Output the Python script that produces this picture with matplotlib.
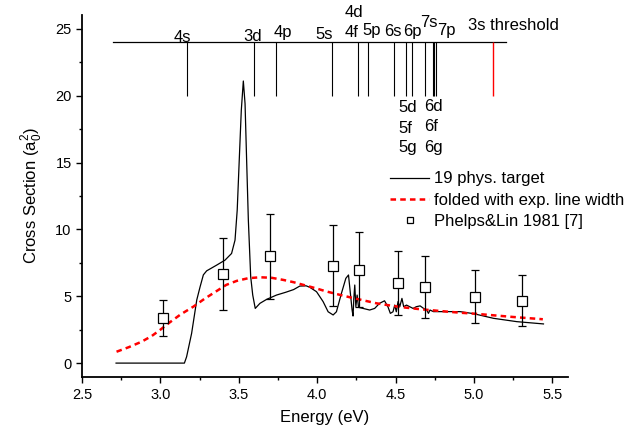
import matplotlib
matplotlib.use("Agg")
import matplotlib.pyplot as plt
from matplotlib.ticker import MultipleLocator
from matplotlib.lines import Line2D

plt.rcParams['font.family'] = ['Liberation Sans', 'DejaVu Sans']
plt.rcParams['mathtext.fontset'] = 'custom'
plt.rcParams['mathtext.rm'] = 'Liberation Sans'
plt.rcParams['lines.scale_dashes'] = False

# 19 phys. target (black)
theo_e = [2.717, 3.153, 3.167, 3.199, 3.232, 3.253, 3.274, 3.295, 3.359, 3.412, 3.454,
          3.476, 3.490, 3.503, 3.516, 3.529, 3.540, 3.550, 3.561, 3.576, 3.589, 3.605,
          3.635, 3.678, 3.741, 3.80, 3.85, 3.889, 3.930, 3.953, 3.996, 4.038, 4.070, 4.102,
          4.123, 4.155, 4.183, 4.200, 4.212, 4.223, 4.229, 4.234, 4.240, 4.247, 4.255,
          4.264, 4.293, 4.335, 4.367, 4.398, 4.430, 4.452, 4.467, 4.484, 4.495, 4.505,
          4.516, 4.527, 4.541, 4.552, 4.570, 4.612, 4.633, 4.657, 4.678, 4.700, 4.710,
          4.720, 4.742, 4.827, 4.912, 4.997, 5.125, 5.274, 5.444]
theo_s = [0.0, 0.0, 0.47, 2.22, 4.73, 5.7, 6.6, 6.9, 7.33, 7.7, 8.2,
          9.2, 11.45, 15.2, 18.9, 21.1, 19.4, 15.2, 10.7, 6.46, 5.09, 4.09,
          4.47, 4.77, 5.09, 5.3, 5.5, 5.76, 5.78, 5.67, 5.34, 4.6, 3.84, 3.6,
          3.84, 5.22, 6.34, 6.59, 5.22, 3.97, 3.52, 4.84, 5.84, 4.22, 5.09,
          4.17, 4.09, 3.97, 4.09, 4.47, 4.66, 4.2, 3.72, 3.84, 4.34, 3.84,
          4.6, 4.22, 4.84, 4.22, 4.34, 4.09, 4.22, 4.28, 4.1, 3.95, 3.72,
          3.97, 3.85, 3.85, 3.85, 3.7, 3.35, 3.1, 2.93]

# folded with exp. line width (red dashed)
fold_e = [2.72, 2.80, 2.88, 2.945, 3.00, 3.06, 3.13, 3.21, 3.28, 3.36, 3.42, 3.487,
          3.56, 3.636, 3.71, 3.785, 3.85, 3.912, 3.99, 4.062, 4.14, 4.21, 4.30, 4.38,
          4.47, 4.55, 4.65, 4.763, 4.84, 4.912, 5.00, 5.10, 5.25, 5.44]
fold_s = [0.85, 1.2, 1.6, 2.03, 2.5, 3.05, 3.65, 4.22, 4.8, 5.4, 5.85, 6.15,
          6.35, 6.42, 6.38, 6.22, 6.05, 5.85, 5.6, 5.35, 5.12, 4.92, 4.68, 4.47,
          4.3, 4.17, 4.04, 3.92, 3.84, 3.77, 3.7, 3.6, 3.45, 3.28]

# Phelps & Lin 1981
exp_e = [3.019, 3.397, 3.700, 4.100, 4.266, 4.515, 4.691, 5.004, 5.308]
exp_s = [3.40, 6.68, 7.98, 7.30, 6.98, 5.98, 5.68, 4.97, 4.67]
exp_err = [1.35, 2.68, 3.2, 3.0, 2.8, 2.4, 2.3, 2.0, 1.9]

# energy levels
level_e = [3.172, 3.596, 3.740, 4.095, 4.263, 4.325, 4.489, 4.569, 4.603, 4.691,
           4.738, 4.748, 4.757]
threshold_e = 5.125
level_line_y = 24.0
level_bottom = 20.0

# level labels: (text, x, y, ha)
level_labels = [("4s", 3.137, 24.05, 'center'), ("3d", 3.589, 24.12, 'center'),
                ("4p", 3.782, 24.42, 'center'), ("5s", 4.043, 24.22, 'center'),
                ("4d", 4.236, 25.92, 'center'), ("4f", 4.221, 24.37, 'center'),
                ("5p", 4.347, 24.55, 'center'), ("6s", 4.486, 24.48, 'center'),
                ("6p", 4.608, 24.48, 'center'), ("7s", 4.712, 25.17, 'center'),
                ("7p", 4.826, 24.55, 'center'), ("3s threshold", 4.963, 24.92, 'left'),
                ("5d", 4.518, 18.76, 'left'), ("5f", 4.518, 17.19, 'left'),
                ("5g", 4.518, 15.82, 'left'), ("6d", 4.684, 18.86, 'left'),
                ("6f", 4.684, 17.37, 'left'), ("6g", 4.684, 15.82, 'left')]

fig = plt.figure(figsize=(6.41, 4.36), dpi=100)
ax = fig.add_axes([0.128, 0.135, 0.758, 0.831])

l1, = ax.plot(theo_e, theo_s, color='black', lw=0.9)
l2, = ax.plot(fold_e, fold_s, color='red', lw=1.8, dashes=(4, 3))
ax.errorbar(exp_e, exp_s, yerr=exp_err, fmt='s', ms=6.5, mfc='white', mec='black',
            mew=0.9, ecolor='black', elinewidth=0.9, capsize=3, capthick=0.9)
l3 = Line2D([], [], marker='s', ls='none', ms=5, mfc='white', mec='black', mew=0.9)

ax.plot([2.698, 5.206], [level_line_y, level_line_y], color='black', lw=0.9)
ax.vlines(level_e, level_bottom, level_line_y, color='black', lw=0.8)
ax.vlines([threshold_e], level_bottom, level_line_y, color='#ff0000', lw=1.0)
for txt, x, y, ha in level_labels:
    ax.text(x, y, txt, ha=ha, va='baseline', fontsize=12)

ax.set_xlim(2.5, 5.6)
ax.set_ylim(-1.05, 26.05)
ax.xaxis.set_major_locator(MultipleLocator(0.5))
ax.xaxis.set_minor_locator(MultipleLocator(0.25))
ax.yaxis.set_major_locator(MultipleLocator(5))
ax.yaxis.set_minor_locator(MultipleLocator(2.5))
ax.xaxis.set_major_formatter(matplotlib.ticker.FormatStrFormatter('%.1f'))
ax.tick_params(which='major', direction='out', length=4, width=1, labelsize=10.5)
ax.tick_params(which='minor', direction='out', length=2.4, width=1)
for s in ['top', 'right']:
    ax.spines[s].set_visible(False)
for s in ['left', 'bottom']:
    ax.spines[s].set_linewidth(1.3)

ax.set_xlabel('Energy (eV)', fontsize=12, labelpad=6)
ax.set_ylabel('Cross Section (a$_\\mathregular{0}^\\mathregular{2}$)', fontsize=12,
              labelpad=8)

ax.legend([l1, l2, l3],
          ['19 phys. target', 'folded with exp. line width', 'Phelps&Lin 1981 [7]'],
          loc='upper left', bbox_to_anchor=(0.609, 0.607), bbox_transform=fig.transFigure,
          frameon=False, fontsize=12, handlelength=2.3, handletextpad=0.3,
          labelspacing=0.38, borderpad=0, borderaxespad=0)

fig.savefig('out.png', dpi=100)
